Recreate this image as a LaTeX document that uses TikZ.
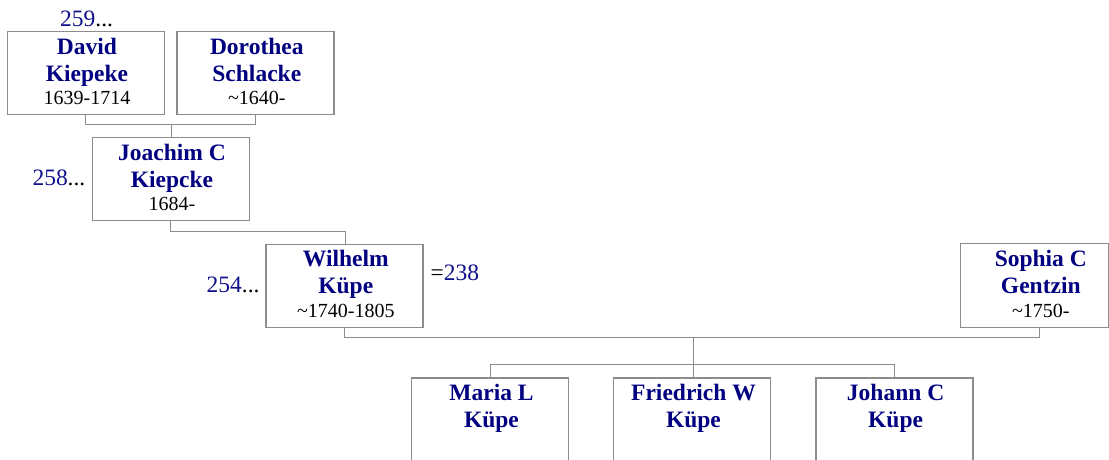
\documentclass[tikz,border=0pt]{standalone}
\usepackage{fontspec}
\setmainfont{Liberation Serif}
\usetikzlibrary{calc}
\definecolor{nameblue}{RGB}{0,0,128}
\definecolor{numblue}{RGB}{16,16,140}
\definecolor{boxgray}{RGB}{140,140,140}
\tikzset{
  pbox/.style={draw=boxgray, line width=1.3pt, minimum width=157pt, minimum height=83pt, inner sep=0pt},
  nm/.style={anchor=base, inner sep=0pt, text=nameblue, font=\fontsize{23.5}{28}\selectfont\bfseries},
  dt/.style={anchor=base, inner sep=0pt, font=\fontsize{20}{24}\selectfont},
  num/.style={anchor=base west, inner sep=0pt, text=numblue, font=\fontsize{23.5}{28}\selectfont},
  conn/.style={draw=boxgray, line width=1.2pt},
}
\newcommand\person[6][pbox]{%
  \node[#1] (#2) at (#3) {};
  \node[nm] (#2-a) at ($(#2.north)+(1.2,23.3)$) {#4};
  \node[nm] (#2-b) at ($(#2.north)+(1.2,50.3)$) {#5};
  \node[dt] (#2-c) at ($(#2.north)+(1.2,73.6)$) {#6};
}
\begin{document}
\begin{tikzpicture}[x=1pt,y=-1pt]
\useasboundingbox (0,0) rectangle (1109,459);
\clip (0,0) rectangle (1109,459);
% persons
\person{david}{85.8,72.9}{David}{Kiepeke}{1639-1714}
\person{dorothea}{255.6,72.9}{Dorothea}{Schlacke}{\textasciitilde1640-}
\person{joachim}{170.8,179.2}{Joachim C}{Kiepcke}{1684-}
\person{wilhelm}{344.6,285.8}{Wilhelm}{Küpe}{\textasciitilde1740-1805}
\person[pbox,draw=none]{sophia}{1039.6,285.8}{Sophia C}{Gentzin}{\textasciitilde1750-}
\coordinate (sR) at (1108.2,327.3);
\draw[draw=boxgray, line width=1.3pt] (sophia.north west) rectangle (sR);
\person{maria}{490.3,419.5}{Maria L}{Küpe}{}
\person{friedrich}{692.3,419.5}{Friedrich W}{Küpe}{}
\person{johann}{894.4,419.5}{Johann C}{Küpe}{}
% numbers
\node[num] (n259) at (60,26.7) {259\textcolor{black}{...}};
\node[num] (n258) at (32.3,185) {258\textcolor{black}{...}};
\node[num] (n254) at (206.5,292.7) {254\textcolor{black}{...}};
\node[num] (n238) at (430.5,280) {\textcolor{black}{=}238};
% connectors
\coordinate (j1) at (171.5,124.3);
\coordinate (j2) at (345.5,231.7);
\coordinate (j3) at (693.3,337.3);
\coordinate (j4) at (693.3,364.7);
\draw[conn] (david.south) |- (j1) -| (dorothea.south);
\draw[conn] (j1) -- (j1 |- joachim.north);
\draw[conn] (joachim.south) |- (j2) -- (j2 |- wilhelm.north);
\draw[conn] (wilhelm.south) |- (j3) -| (sophia.south);
\draw[conn] (j3) -- (j4);
\draw[conn] (maria.north) |- (j4) -| (johann.north);
\draw[conn] (j4) -- (j4 |- friedrich.north);
\end{tikzpicture}
\end{document}
